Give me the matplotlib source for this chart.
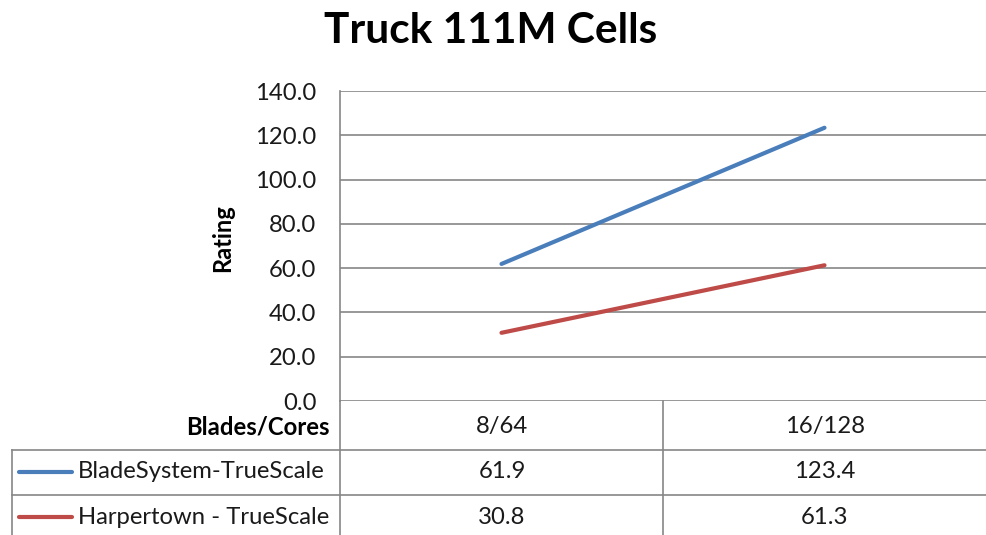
import matplotlib
matplotlib.use("Agg")
import matplotlib.pyplot as plt
from matplotlib.lines import Line2D

categories = ["8/64", "16/128"]
series_names = ["BladeSystem-TrueScale", "Harpertown - TrueScale"]
blade_vals = [61.9, 123.4]
harper_vals = [30.8, 61.3]
yticks = [0, 20, 40, 60, 80, 100, 120, 140]

colors = ["#4A7EBB", "#BE4B48"]
grid_c = "#868686"
W, H = 986, 535
plt.rcParams['font.family'] = ['Lato', 'DejaVu Sans']

fig = plt.figure(figsize=(W / 100, H / 100), dpi=100)

def fx(px):
    return px / W

def fy(py):
    return 1 - py / H

fs = 17.2

ax = fig.add_axes([fx(340), fy(401), 1 - fx(340), fy(91) - fy(401)])
x = list(range(len(categories)))
for vals, c in zip([blade_vals, harper_vals], colors):
    ax.plot(x, vals, color=c, lw=3.0, solid_capstyle='round')
ax.set_xlim(-0.5, len(categories) - 0.5)
ax.set_ylim(0, 140)
ax.set_yticks(yticks)
ax.set_yticklabels([f"{v:.1f}" for v in yticks], fontsize=fs, color="#1a1a1a")
ax.tick_params(axis='y', length=0, pad=17)
ax.set_xticks([])
for s in ['top', 'right', 'bottom']:
    ax.spines[s].set_visible(False)
ax.spines['left'].set_color(grid_c)
ax.spines['left'].set_linewidth(1.2)
ax.yaxis.grid(True, color=grid_c, lw=1.2)
ax.set_axisbelow(True)

fig.text(fx(223), fy(238), "Rating", fontsize=17, fontweight='bold', rotation=90,
         ha='center', va='center')

fig.text(fx(491), fy(31), "Truck 111M Cells", fontsize=30.5, fontweight='bold',
         ha='center', va='center')

# data table lines
def line(x0, y0, x1, y1):
    fig.add_artist(Line2D([fx(x0), fx(x1)], [fy(y0), fy(y1)], color=grid_c, lw=1.2))

line(340, 401, 340, 535)
line(663, 401, 663, 535)
line(12, 450, 986, 450)
line(12, 495, 986, 495)
line(12, 450, 12, 535)

fig.text(fx(330), fy(427), "Blades/Cores", fontsize=fs, fontweight='bold', ha='right', va='center')
centers = [502, 825]
for cx, cat in zip(centers, categories):
    fig.text(fx(cx), fy(427), cat, fontsize=fs, ha='center', va='center', color="#1a1a1a")

rows_y = [472, 517]
for ry, name, vals, c in zip(rows_y, series_names, [blade_vals, harper_vals], colors):
    fig.add_artist(Line2D([fx(19), fx(72)], [fy(ry), fy(ry)], color=c, lw=3.0,
                          solid_capstyle='round'))
    fig.text(fx(78), fy(ry), name, fontsize=fs, ha='left', va='center', color="#1a1a1a")
    for cx, v in zip(centers, vals):
        fig.text(fx(cx), fy(ry), f"{v:.1f}", fontsize=fs, ha='center', va='center', color="#1a1a1a")

fig.savefig("out.png", dpi=100)
